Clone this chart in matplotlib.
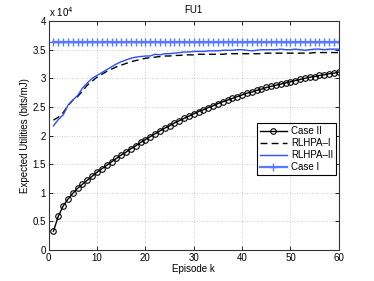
import numpy as np
import matplotlib
matplotlib.use("Agg")
import matplotlib.pyplot as plt
from matplotlib.ticker import FuncFormatter, MultipleLocator

plt.rcParams['font.family'] = ['Liberation Sans', 'DejaVu Sans']

episodes = np.arange(1, 61)

case_ii = [0.33, 0.59, 0.77, 0.89, 0.99, 1.08, 1.15, 1.22, 1.29, 1.36,
           1.42, 1.48, 1.54, 1.60, 1.66, 1.71, 1.77, 1.82, 1.88, 1.93,
           1.98, 2.03, 2.08, 2.13, 2.17, 2.22, 2.26, 2.30, 2.34, 2.38,
           2.42, 2.45, 2.49, 2.52, 2.56, 2.59, 2.62, 2.65, 2.68, 2.71,
           2.74, 2.76, 2.79, 2.81, 2.84, 2.86, 2.88, 2.90, 2.92, 2.94,
           2.96, 2.98, 3.00, 3.02, 3.03, 3.05, 3.06, 3.08, 3.09, 3.11]

rlhpa_i = [2.27, 2.32, 2.40, 2.52, 2.62, 2.68, 2.78, 2.88, 2.95, 3.02,
           3.07, 3.12, 3.16, 3.20, 3.23, 3.26, 3.29, 3.31, 3.33, 3.35,
           3.36, 3.37, 3.38, 3.39, 3.39, 3.40, 3.40, 3.41, 3.41, 3.41,
           3.42, 3.42, 3.42, 3.42, 3.42, 3.42, 3.43, 3.43, 3.43, 3.43,
           3.43, 3.43, 3.43, 3.43, 3.44, 3.44, 3.44, 3.44, 3.44, 3.44,
           3.44, 3.44, 3.44, 3.44, 3.45, 3.45, 3.45, 3.45, 3.45, 3.45]

rlhpa_ii = [2.17, 2.28, 2.36, 2.53, 2.62, 2.70, 2.83, 2.92, 3.00, 3.05,
            3.10, 3.15, 3.20, 3.25, 3.29, 3.32, 3.35, 3.37, 3.38, 3.39,
            3.39, 3.42, 3.41, 3.43, 3.43, 3.44, 3.45, 3.46, 3.46, 3.47,
            3.47, 3.47, 3.48, 3.48, 3.48, 3.49, 3.49, 3.49, 3.50, 3.50,
            3.49, 3.48, 3.49, 3.50, 3.50, 3.50, 3.50, 3.51, 3.50, 3.50,
            3.51, 3.50, 3.49, 3.50, 3.51, 3.51, 3.50, 3.51, 3.51, 3.51]

case_i = [3.64] * 60

scale = 1e4

fig = plt.figure(figsize=(3.74, 2.81), dpi=100)
ax = fig.add_axes([0.13, 0.11, 0.776, 0.815])

ax.plot(episodes, np.array(case_ii) * scale, color='black', lw=1.0,
        marker='o', ms=4, mfc='none', mew=0.8, label='Case II')
ax.plot(episodes, np.array(rlhpa_i) * scale, color='black', lw=1.0,
        ls=(0, (5, 3)), label='RLHPA\u2013I')
ax.plot(episodes, np.array(rlhpa_ii) * scale, color='#2a4dff', lw=1.0,
        label='RLHPA\u2013II')
ax.plot(episodes, np.array(case_i) * scale, color='#5878ff', lw=1.6,
        marker='+', ms=6, mew=1.0, label='Case I')

ax.set_xlim(0, 60)
ax.set_ylim(0, 4e4)
ax.xaxis.set_major_locator(MultipleLocator(10))
ax.yaxis.set_major_locator(MultipleLocator(5000))
ax.yaxis.set_major_formatter(FuncFormatter(lambda v, p: f"{v/scale:g}"))
ax.tick_params(direction='in', labelsize=7, length=3, width=0.6,
               top=True, right=True, pad=2)
ax.grid(True, ls=(0, (1, 2)), color='#bbbbbb', lw=0.6)
for s in ax.spines.values():
    s.set_linewidth(0.8)
    s.set_color('#333333')

ax.set_xlabel('Episode k', fontsize=7, labelpad=1)
ax.set_ylabel('Expected Utilities (bits/mJ)', fontsize=7, labelpad=2)
ax.set_title('FU1', fontsize=7, pad=6)
ax.text(0.0, 1.01, r'x 10$^4$', transform=ax.transAxes, fontsize=7,
        ha='left', va='bottom')

leg = ax.legend(loc='center right', bbox_to_anchor=(1.0, 0.44), fontsize=7,
                fancybox=False, framealpha=1, edgecolor='black',
                handlelength=2.8, borderpad=0.3, labelspacing=0.2,
                handletextpad=0.4, borderaxespad=0.3)
leg.get_frame().set_linewidth(0.8)

fig.savefig('out.png', dpi=100)
